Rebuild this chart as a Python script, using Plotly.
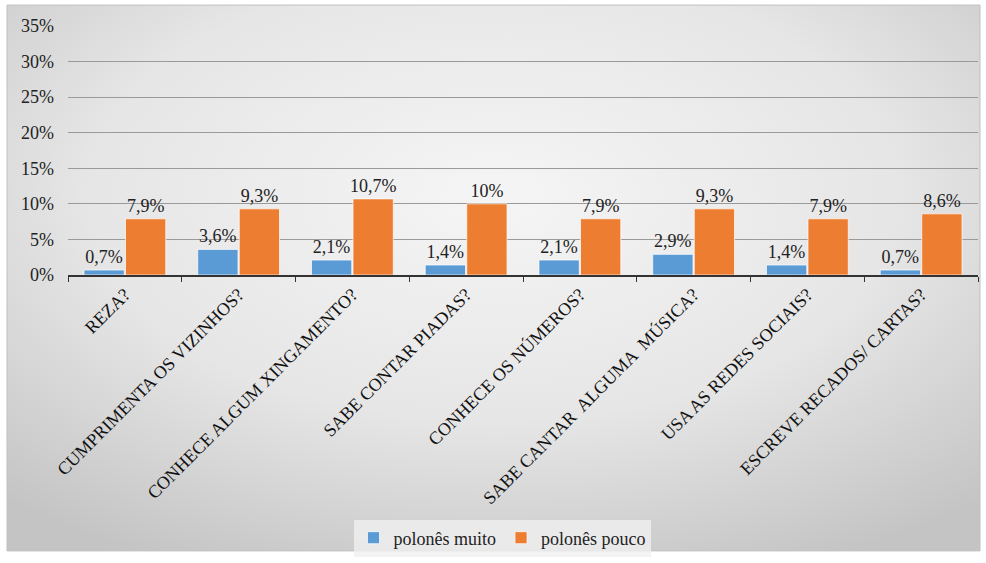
import base64
import plotly.graph_objects as go

categories = ["REZA?", "CUMPRIMENTA OS VIZINHOS?", "CONHECE ALGUM XINGAMENTO?",
              "SABE CONTAR PIADAS?", "CONHECE OS NÚMEROS?", "SABE CANTAR  ALGUMA  MÚSICA?",
              "USA AS REDES SOCIAIS?", "ESCREVE RECADOS/ CARTAS?"]
muito = [0.7, 3.6, 2.1, 1.4, 2.1, 2.9, 1.4, 0.7]
pouco = [7.9, 9.3, 10.7, 10.0, 7.9, 9.3, 7.9, 8.6]
series_names = ["polonês muito", "polonês pouco"]
y_ticks = [0, 5, 10, 15, 20, 25, 30, 35]


def fmt(v):
    s = f"{v:.1f}".replace(".", ",")
    if s.endswith(",0"):
        s = s[:-2]
    return s + "%"


FONT = "Liberation Serif"

svg = """<svg xmlns='http://www.w3.org/2000/svg' width='973' height='548' preserveAspectRatio='none'>
<defs><radialGradient id='g' cx='50%' cy='35%' r='75%'>
<stop offset='0%' stop-color='#f5f5f5'/><stop offset='55%' stop-color='#e6e6e6'/>
<stop offset='100%' stop-color='#c4c4c4'/></radialGradient></defs>
<rect width='973' height='548' fill='url(#g)'/></svg>"""
src = "data:image/svg+xml;base64," + base64.b64encode(svg.encode()).decode()

fig = go.Figure()
for name, vals, col in [(series_names[0], muito, "#5B9BD5"), (series_names[1], pouco, "#ED7D31")]:
    fig.add_trace(go.Bar(x=categories, y=vals, name=name,
                         marker=dict(color=col, line=dict(color="rgba(255,255,255,0.7)", width=1)),
                         text=[fmt(v) for v in vals], textposition="outside", cliponaxis=False,
                         constraintext="none",
                         textfont=dict(family=FONT, size=18, color="#222222")))

L, R, T, B = 68, 8, 26, 287
W, H = 986, 563
pw, ph = W - L - R, H - T - B

fig.update_layout(
    width=W, height=H,
    margin=dict(l=L, r=R, t=T, b=B),
    paper_bgcolor="white",
    plot_bgcolor="rgba(0,0,0,0)",
    barmode="group", bargap=0.27, bargroupgap=0.03,
    font=dict(family=FONT, size=17, color="#222222"),
    showlegend=True,
    legend=dict(orientation="h", x=(502 - L) / pw, xanchor="center",
                y=(H - B - 538) / ph, yanchor="middle",
                bgcolor="rgba(240,240,240,0.8)",
                font=dict(family="Times New Roman", size=18, color="#222222"),
                itemwidth=30, traceorder="normal"),
    xaxis=dict(tickangle=-45, tickson="boundaries", ticks="outside", ticklen=5,
               tickcolor="#333333", showline=True, linecolor="#333333", linewidth=2,
               tickfont=dict(family=FONT, size=18, color="#111111"), showgrid=False),
    yaxis=dict(range=[0, 35], tickvals=y_ticks, ticktext=[f"{t}%" for t in y_ticks],
               showgrid=True, gridcolor="#9a9a9a", gridwidth=1, zeroline=False,
               ticklabelstandoff=13,
               tickfont=dict(family=FONT, size=18, color="#222222"), ticks="", showline=False),
    images=[dict(source=src, xref="paper", yref="paper",
                 x=(7 - L) / pw, y=(H - B - 5) / ph, sizex=973 / pw, sizey=548 / ph,
                 xanchor="left", yanchor="top", sizing="stretch", layer="below")],
    shapes=[dict(type="rect", xref="paper", yref="paper",
                 x0=(7 - L) / pw, x1=(980 - L) / pw, y0=(H - B - 553) / ph, y1=(H - B - 5) / ph,
                 line=dict(color="#bfbfbf", width=1), fillcolor="rgba(0,0,0,0)", layer="below")],
)

fig.write_html("out.html", config={"displayModeBar": False},
               post_script="document.body.style.margin='0';")
